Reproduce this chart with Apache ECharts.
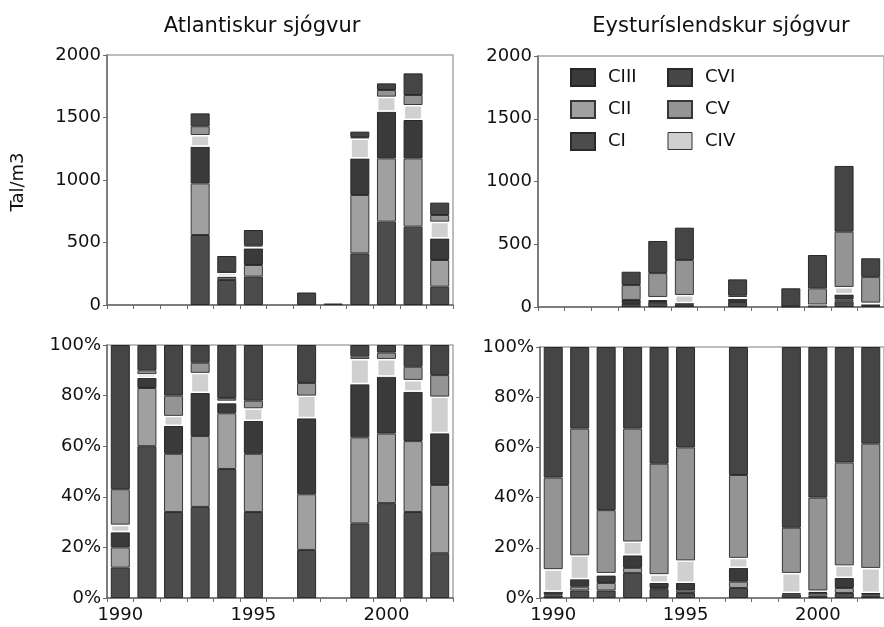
<!DOCTYPE html>
<html><head><meta charset="utf-8">
<script src="https://cdn.jsdelivr.net/npm/echarts@6/dist/echarts.min.js"></script>
<style>html,body{margin:0;padding:0;background:#fff}#c{width:884px;height:627px}</style>
</head><body><div id="c"></div>
<script>
const years = ['1990','1991','1992','1993','1994','1995','1996','1997','1998','1999','2000','2001','2002'];
const stages = ['CI','CII','CIII','CIV','CV','CVI'];
const absTicks = [0, 500, 1000, 1500, 2000];
const pctTicks = [0, 20, 40, 60, 80, 100];

// Atlantiskur sjógvur, Tal/m3
const atlAbsCI   = [0,0,0,560,200,227,0,0,12,413,667,627,147];
const atlAbsCII  = [0,0,0,413,20,93,0,0,0,467,506,546,213];
const atlAbsCIII = [0,0,0,294,6,133,0,0,0,293,374,307,173];
const atlAbsCIV  = [0,0,0,93,32,15,0,0,0,160,120,120,134];
const atlAbsCV   = [0,0,0,70,4,10,0,0,0,10,53,80,53];
const atlAbsCVI  = [0,0,0,103,130,122,0,100,0,44,53,173,99];

// Eysturíslendskur sjógvur, Tal/m3
const eastAbsCI   = [0,0,0,25,35,20,0,40,0,4,5,45,10];
const eastAbsCII  = [0,0,0,5,5,5,0,5,0,0,5,15,5];
const eastAbsCIII = [0,0,0,26,15,5,0,20,0,0,5,40,5];
const eastAbsCIV  = [0,0,0,0,25,66,0,15,0,0,5,60,15];
const eastAbsCV   = [0,0,0,119,190,279,0,10,0,0,129,440,205];
const eastAbsCVI  = [0,0,0,106,256,257,0,130,0,145,265,524,148];

// Atlantiskur sjógvur, %
const atlPctCI   = [12,60,34,36,51,34,0,19,0,29.5,37.5,34,17.7];
const atlPctCII  = [8,23,23,28,22,23,0,22,0,34,27.5,28,27];
const atlPctCIII = [6,4,11,17,4,13,0,30,0,21,22.5,19.5,20.4];
const atlPctCIV  = [3,1.5,4,8,1,5,0,9,0,10,7,4.7,14.5];
const atlPctCV   = [14,1.5,8,4,1,3,0,5,0,1,2.5,5.2,8.5];
const atlPctCVI  = [57,10,20,7,21,22,0,15,0,4.5,3,8.6,11.9];

// Eysturíslendskur sjógvur, %
const eastPctCI   = [1,3,3,10,3.5,2,0,4,0,1.5,1,2,1];
const eastPctCII  = [0.5,1.5,3,2,0.5,1,0,2.5,0,0.5,1,2,0.5];
const eastPctCIII = [1,3,3,5,2,3,0,5.5,0,0,0.5,4,0.5];
const eastPctCIV  = [9,9.5,1,5.5,3.5,9,0,4,0,8,0.5,5,10];
const eastPctCV   = [36.5,50.5,25,45,44,45,0,33,0,18,37,41,49.5];
const eastPctCVI  = [52,32.5,65,32.5,46.5,40,0,51,0,72,60,46,38.5];

const FONT = '"DejaVu Sans", sans-serif';
const TXT = '#111111';
const stageStyle = {
  CI:   {color:'#4c4c4c', borderColor:'#2a2a2a', borderWidth:1},
  CII:  {color:'#a0a0a0', borderColor:'#383838', borderWidth:1},
  CIII: {color:'#3a3a3a', borderColor:'#262626', borderWidth:1},
  CIV:  {color:'#d0d0d0', borderColor:'#ffffff', borderWidth:1.5},
  CV:   {color:'#949494', borderColor:'#383838', borderWidth:1},
  CVI:  {color:'#454545', borderColor:'#292929', borderWidth:1}
};

const panels = [
  {pct:false, data:{CI:atlAbsCI,CII:atlAbsCII,CIII:atlAbsCIII,CIV:atlAbsCIV,CV:atlAbsCV,CVI:atlAbsCVI}},
  {pct:false, data:{CI:eastAbsCI,CII:eastAbsCII,CIII:eastAbsCIII,CIV:eastAbsCIV,CV:eastAbsCV,CVI:eastAbsCVI}},
  {pct:true,  data:{CI:atlPctCI,CII:atlPctCII,CIII:atlPctCIII,CIV:atlPctCIV,CV:atlPctCV,CVI:atlPctCVI}},
  {pct:true,  data:{CI:eastPctCI,CII:eastPctCII,CIII:eastPctCIII,CIV:eastPctCIV,CV:eastPctCV,CVI:eastPctCVI}}
];

const grids = [
  {left:107, top:55,  width:346, height:250},
  {left:538, top:56,  width:350, height:251},
  {left:107, top:345, width:346, height:253},
  {left:540, top:347, width:348, height:251}
].map(g => Object.assign(g, {show:true, borderColor:'#a8a8a8', borderWidth:1.5, containLabel:false}));

const xAxes = panels.map((p, i) => ({
  type:'category', gridIndex:i, data:years,
  axisLine:{lineStyle:{color:'#6a6a6a', width:1.5}},
  axisTick:{show:true, interval:0, length:4, lineStyle:{color:'#6a6a6a'}},
  axisLabel:{show:p.pct, interval:4, margin:8, fontSize:18, fontFamily:FONT, color:TXT}
}));

const yAxes = panels.map((p, i) => {
  const ticks = p.pct ? pctTicks : absTicks;
  return {
    type:'value', gridIndex:i, min:ticks[0], max:ticks[ticks.length-1],
    interval:ticks[1]-ticks[0],
    axisLine:{show:true, lineStyle:{color:'#6a6a6a', width:1.5}},
    axisTick:{show:true, length:4, lineStyle:{color:'#6a6a6a'}},
    splitLine:{show:false},
    axisLabel:{margin:6, fontSize:18, fontFamily:FONT, color:TXT,
      formatter: p.pct ? (v => String(v) + '%') : (v => String(v))}
  };
});

const series = [];
panels.forEach((p, i) => {
  stages.forEach(s => {
    series.push({
      type:'bar', name:s, xAxisIndex:i, yAxisIndex:i, stack:'st'+i,
      barWidth:19, animation:false,
      itemStyle:stageStyle[s],
      data:p.data[s].map(v => v === 0 ? null : v)
    });
  });
});

const legendCommon = {
  orient:'vertical', top:63, itemWidth:24, itemHeight:17, itemGap:13,
  selectedMode:false, icon:'rect',
  textStyle:{fontSize:18, fontFamily:FONT, color:TXT, padding:[0,0,0,8]}
};

const option = {
  backgroundColor:'#fff',
  animation:false,
  grid:grids, xAxis:xAxes, yAxis:yAxes, series:series,
  legend:[
    Object.assign({left:565, data:['CIII','CII','CI']}, legendCommon),
    Object.assign({left:662, data:['CVI','CV',{name:'CIV', itemStyle:{borderColor:'#333333', borderWidth:1}}]}, legendCommon)
  ],
  graphic:[
    {type:'text', x:262, y:27, style:{text:'Atlantiskur sjógvur', font:'21px "DejaVu Sans"', fill:TXT, textAlign:'center', textVerticalAlign:'middle'}},
    {type:'text', x:721, y:27, style:{text:'Eysturíslendskur sjógvur', font:'21px "DejaVu Sans"', fill:TXT, textAlign:'center', textVerticalAlign:'middle'}},
    {type:'text', x:18, y:182, rotation:Math.PI/2, style:{text:'Tal/m3', font:'18px "DejaVu Sans"', fill:TXT, textAlign:'center', textVerticalAlign:'middle'}}
  ]
};

const chart = echarts.init(document.getElementById('c'), null, {renderer:'canvas'});
chart.setOption(option);
</script>
</body></html>
